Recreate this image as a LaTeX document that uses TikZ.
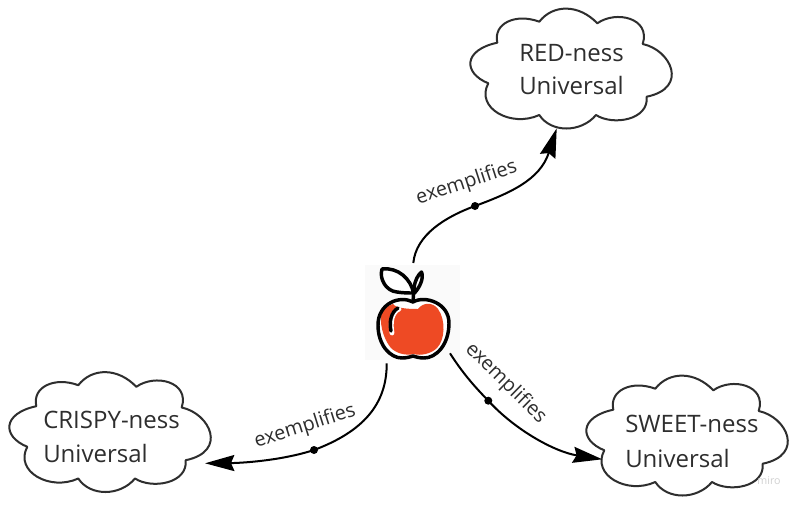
\documentclass[tikz,border=0pt]{standalone}
\usepackage{fontspec}
\setmainfont{Open Sans}
\usetikzlibrary{arrows.meta}
\definecolor{applered}{HTML}{EE4A24}
\definecolor{inkgrey}{HTML}{2E2E2E}
\tikzset{
  x=0.75pt,y=-0.75pt,
  cloudline/.style={draw=inkgrey,line width=1.5pt,line join=round,fill=white},
  cloudtext/.style={font=\fontsize{18}{18}\selectfont,text=inkgrey,inner sep=0pt,anchor=west},
  link/.style={draw=black,line width=1.5pt,-{Stealth[length=22pt,width=12pt,inset=2.5pt]}},
  linklabel/.style={font=\fontsize{14.9}{15}\selectfont,text=inkgrey,inner sep=0pt},
  linkdot/.style={circle,fill=black,inner sep=0pt,minimum size=6pt},
  appleink/.style={draw=black,line width=2.6pt,line cap=round,line join=round},
  watermark/.style={font=\fontsize{8}{8}\selectfont,text=black!18,inner sep=0pt},
}
\newcommand{\cloudshape}[2]{%
\begin{scope}[shift={(#1,#2)}]
\path[cloudline] (-82.7,15.3) .. controls (-108,5) and (-108,-18) .. (-73.7,-25.3)
  .. controls (-78,-45) and (-55,-55) .. (-31.7,-46.3)
  .. controls (-18,-64) and (8,-64) .. (26.3,-44.7)
  .. controls (45,-58) and (80,-50) .. (71.7,-24)
  .. controls (100,-18) and (118,20) .. (75.7,28.7)
  .. controls (78,52) and (42,58) .. (25,47)
  .. controls (10,65) and (-20,65) .. (-31.7,47)
  .. controls (-60,60) and (-96,40) .. (-82.7,15.3) -- cycle;
\end{scope}}
\begin{document}
\begin{tikzpicture}
\useasboundingbox (0,0) rectangle (800,504);
\fill[white] (0,0) rectangle (800,504);
\fill[black!2] (365,265) rectangle (460,360);
% clouds
\cloudshape{571}{68}
\cloudshape{110}{431.5}
\cloudshape{687}{435}
% cloud texts
\node[cloudtext] (redA) at (519,53) {RED-ness};
\node[cloudtext] (redB) at (519,85) {Universal};
\node[cloudtext] (crispA) at (43,420) {CRISPY-ness};
\node[cloudtext] (crispB) at (43,453) {Universal};
\node[cloudtext] (sweetA) at (625,424) {SWEET-ness};
\node[cloudtext] (sweetB) at (625,458) {Universal};
\node[watermark] (miro) at (769,481) {miro};
% apple
\path[fill=white] (413,302) .. controls (425,295) and (449,303) .. (449,323)
  .. controls (449,345) and (436,358) .. (424,358) .. controls (420,358) and (416,357) .. (413,356)
  .. controls (410,357) and (406,358) .. (402,358)
  .. controls (390,358) and (378,345) .. (378,325)
  .. controls (378,303) and (400,295) .. (413,302) -- cycle;
\path[fill=applered] (418,309) .. controls (423,302) and (433,302) .. (438,309)
  .. controls (446,320) and (445,340) .. (437,348)
  .. controls (431,354) and (420,356) .. (414,354)
  .. controls (405,356) and (396,353) .. (391,348)
  .. controls (385,341) and (380,328) .. (381,316)
  .. controls (382,309) and (389,305) .. (393,304)
  .. controls (396,308) and (406,309) .. (418,309) -- cycle;
\draw[white,line width=3.6pt,line cap=round] (399,309) .. controls (392,312) and (390,322) .. (392,333);
\draw[appleink] (398,308) .. controls (391,312) and (389,322) .. (391,331);
\draw[appleink] (413,302) .. controls (425,295) and (449,303) .. (449,323)
  .. controls (449,345) and (436,358) .. (424,358) .. controls (420,358) and (416,357) .. (413,356)
  .. controls (410,357) and (406,358) .. (402,358)
  .. controls (390,358) and (378,345) .. (378,325)
  .. controls (378,303) and (400,295) .. (413,302);
\draw[appleink,fill=white] (413.5,293) .. controls (411,279) and (398,267) .. (382,269)
  .. controls (379,279) and (386,291) .. (397,292) .. controls (403,293) and (409,293) .. (413.5,293) -- cycle;
\draw[appleink] (413,302) -- (414,288) .. controls (415,280) and (418,275) .. (421.5,272)
  .. controls (424,278) and (420,287) .. (414.5,293);
% connector anchors
\coordinate (appleN) at (413.3,263);
\coordinate (appleSW) at (386.7,363.3);
\coordinate (appleSE) at (450,353.3);
\coordinate (redIn) at (556.7,128.3);
\coordinate (crispIn) at (205,463.3);
\coordinate (sweetIn) at (602.3,459.3);
\node[linkdot] (dotR) at (475,206) {};
\node[linkdot] (dotC) at (314,450) {};
\node[linkdot] (dotS) at (488.3,400.7) {};
% connectors
\draw[link] (appleN) .. controls (416,235) and (445,217) .. (dotR.center)
  .. controls (510,193) and (540,180) .. (redIn);
\draw[link] (appleSW) .. controls (387,405) and (362,432) .. (dotC.center)
  .. controls (280,461) and (240,463) .. (crispIn);
\draw[link] (appleSE) .. controls (462,372) and (473,385) .. (dotS.center)
  .. controls (515,430) and (555,452) .. (sweetIn);
% labels
\node[linklabel,rotate=18] (lblR) at (466.7,183) {exemplifies};
\node[linklabel,rotate=17.5] (lblC) at (305,426.5) {exemplifies};
\node[linklabel,rotate=-44.5] (lblS) at (505.7,383.3) {exemplifies};
\end{tikzpicture}
\end{document}
